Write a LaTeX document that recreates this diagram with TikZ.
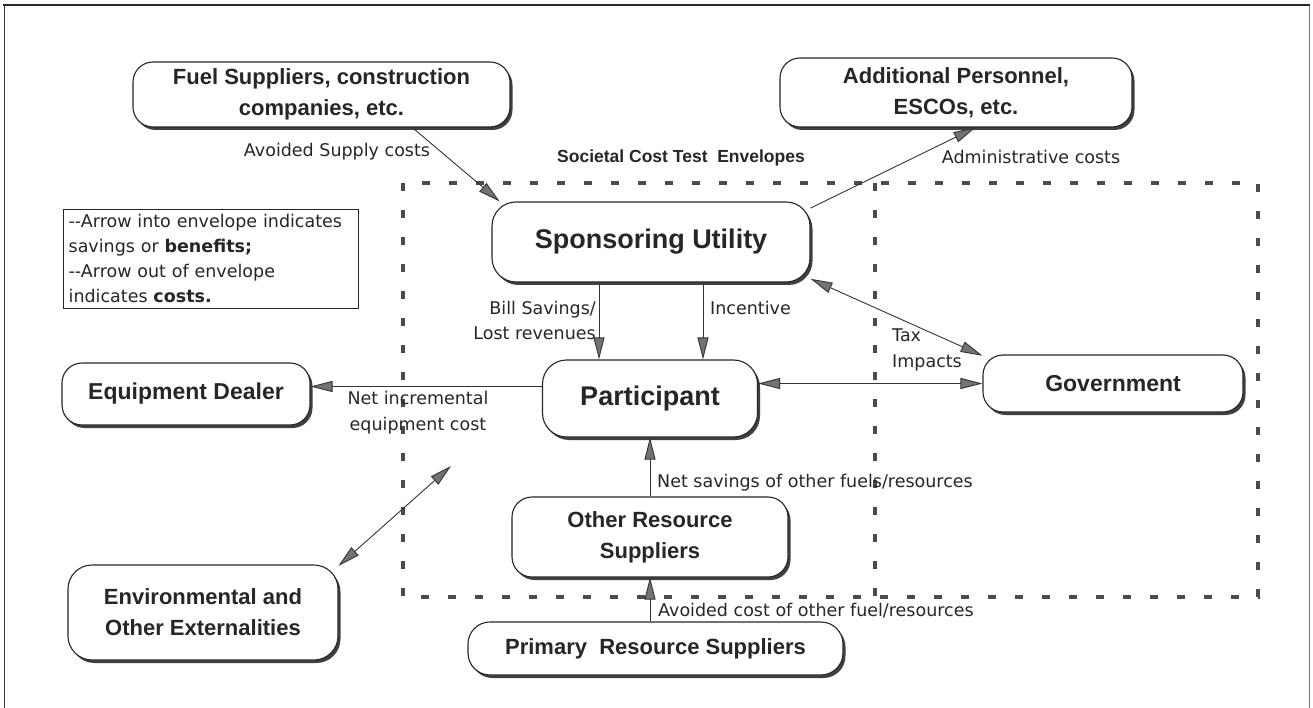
\documentclass[tikz,border=0pt]{standalone}
\usepackage{fontspec}
\setmainfont{DejaVu Sans}
\newfontfamily\boxfont{Liberation Sans}
\usetikzlibrary{arrows.meta,shadows,calc}
\begin{document}
\begin{tikzpicture}[x=1pt,y=-1pt,
  >={Triangle[length=22pt,width=11pt,fill=black!55]},
  nbox/.style={draw=black!85, line width=1.1pt, rounded corners=20pt, fill=white,
    align=center, inner sep=0pt, text=black!85,
    font=\boxfont\bfseries\fontsize{22}{31}\selectfont,
    drop shadow={shadow xshift=2.5pt, shadow yshift=-3pt, fill=black!75, opacity=1}},
  bigtext/.style={font=\boxfont\bfseries\fontsize{27}{32}\selectfont},
  midtext/.style={font=\boxfont\bfseries\fontsize{23}{28}\selectfont},
  lbl/.style={font=\fontsize{17.5}{25.5}\selectfont, text=black!85, inner sep=0pt},
  con/.style={draw=black!80, line width=0.9pt},
  envelope/.style={draw=black!70, line width=4.5pt, dash pattern=on 8pt off 19pt}
]
\useasboundingbox (0,0) rectangle (1313,708);
% outer frame
\draw[black!80, line width=1pt] (4,708) -- (4,5);
\draw[black!55, line width=0.8pt] (1309,5) -- (1309,708);
\draw[black!85, line width=2.2pt] (3,5) -- (1310,5);

% envelopes
\draw[envelope] (403,183) rectangle (1258,597);
\draw[envelope] (875,183) -- (875,597);

% nodes
\node[nbox, minimum width=377pt, minimum height=65pt] (fuel) at (321.5,94.5) {Fuel Suppliers, construction\\companies, etc.};
\node[nbox, minimum width=352pt, minimum height=69pt] (addl) at (956,92.5) {Additional Personnel,\\ESCOs, etc.};
\node[nbox, bigtext, minimum width=318pt, minimum height=80pt, rounded corners=24pt] (sponsor) at (651,242) {Sponsoring Utility};
\node[nbox, bigtext, minimum width=215pt, minimum height=77pt, rounded corners=24pt] (part) at (650,398.5) {Participant};
\node[nbox, midtext, minimum width=260pt, minimum height=57pt] (gov) at (1113,383.5) {Government};
\node[nbox, midtext, minimum width=248pt, minimum height=62pt] (dealer) at (186,394) {Equipment Dealer};
\node[nbox, minimum width=270pt, minimum height=95pt, rounded corners=24pt] (env) at (203,612.5) {Environmental and\\Other Externalities};
\node[nbox, minimum width=276pt, minimum height=80pt] (other) at (650,537) {Other Resource\\Suppliers};
\node[nbox, minimum width=375pt, minimum height=53pt, rounded corners=22pt] (primary) at (655.5,648.5) {Primary\ \ Resource Suppliers};

% legend
\node[draw=black!85, line width=1.3pt, align=left, inner sep=5pt, text width=285pt,
  anchor=north west, text=black!85, font=\fontsize{17.5}{25}\selectfont] (legend) at (63,209)
  {-{}-Arrow into envelope indicates\\savings or \textbf{benefits;}\\-{}-Arrow out of envelope\\indicates \textbf{costs.}};

% labels
\node[lbl] (lavoid) at (337,152) {Avoided Supply costs};
\node[lbl] (ladmin) at (1031,157) {Administrative costs};
\node[font=\boxfont\bfseries\fontsize{17.5}{20}\selectfont, text=black!85, inner sep=0pt] (ltitle) at (681,158) {Societal Cost Test\ \ Envelopes};
\node[lbl, anchor=west, align=left] (ltax) at (892,350) {Tax\\Impacts};
\node[lbl, align=center] (lnet) at (418,412.5) {Net incremental\\equipment cost};
\node[lbl, align=right, anchor=east] (lbill) at (596,320.5) {Bill Savings/\\Lost revenues};
\node[lbl, anchor=west] (linc) at (710,308) {Incentive};
\node[lbl, anchor=west] (lsav) at (657,483) {Net savings of other fuels/resources};
\node[lbl, anchor=west] (lavo2) at (658,611) {Avoided cost of other fuel/resources};

% connectors
\draw[con,->] (fuel.-20) -- (sponsor.165);
\draw[con,->] (sponsor.12.5) -- (addl.-61);
\draw[con,<->] (sponsor.-13) -- (gov.168.5);
\draw[con,<->] (gov.west -| part.east) -- (gov.west);
\draw[con,->] ([yshift=12pt]part.west) -- ([yshift=12pt]part.west -| dealer.east);
\draw[con,->] ([xshift=-52pt]sponsor.south) -- ([xshift=-52pt]sponsor.south |- part.north);
\draw[con,->] ([xshift=52pt]sponsor.south) -- ([xshift=52pt]sponsor.south |- part.north);
\draw[con,->] (other.north) -- (part.south);
\draw[con,->] (other.south |- primary.north) -- (other.south);
\coordinate (envtip) at (451,466);
\draw[con,<->] (env.19) -- (envtip);
\end{tikzpicture}
\end{document}
